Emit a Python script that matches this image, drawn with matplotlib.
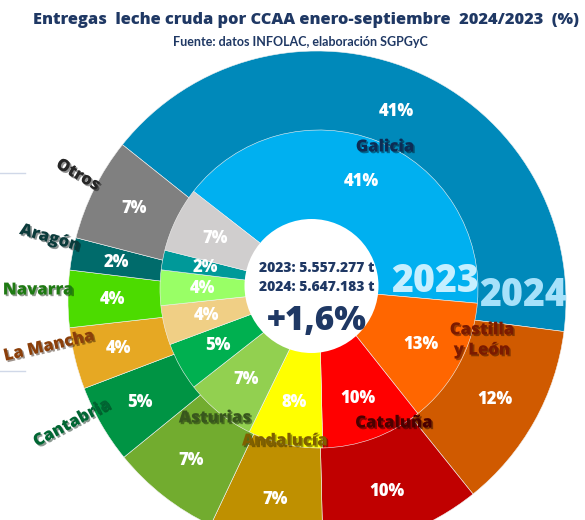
import matplotlib.pyplot as plt
import matplotlib.patheffects as pe
from matplotlib.patches import Circle
from matplotlib.lines import Line2D

# shares (%) per comunidad, same order in both rings (clockwise from Galicia)
regions = ['Galicia', 'Castilla y León', 'Cataluña', 'Andalucía', 'Asturias',
           'Cantabria', 'Castilla-La Mancha', 'Navarra', 'Aragón', 'Otros']
share_2024 = [41.3, 12.2, 10.4, 7.4, 7.1, 5.1, 4.0, 3.7, 2.1, 6.7]
share_2023 = [40.9, 12.9, 10.3, 7.6, 7.2, 4.9, 4.0, 3.6, 2.0, 6.6]
total_2023 = '5.557.277 t'
total_2024 = '5.647.183 t'
variation = '+1,6%'

colors_2024 = ['#0089BA', '#D05A00', '#C00000', '#BF9000', '#72AC2F',
               '#009444', '#E6A823', '#4CDB00', '#006B6B', '#808080']
colors_2023 = ['#00B0F0', '#FF6600', '#FF0000', '#FFFF00', '#92D050',
               '#00B050', '#F0CF85', '#99FF66', '#009999', '#D0CECE']

NAVY = '#1F3864'
FONT = 'Open Sans'
WT = 800
W, H = 585, 520
CX, CY, R = 317, 300, 249


def P(x, y):
    # pixel position -> data coords
    return (x - CX) / R, (CY - y) / R


fig = plt.figure(figsize=(5.85, 5.2), dpi=100)
ax = fig.add_axes([(CX - R) / W, (H - CY - R) / H, 2 * R / W, 2 * R / H])

pct_props = dict(color='white', fontsize=12, fontweight=WT, family=FONT)

ax.pie(share_2024, colors=colors_2024, radius=1, startangle=141.4, counterclock=False,
       wedgeprops=dict(width=0.5, edgecolor='#f2f2f2', linewidth=0.4),
       autopct='%.0f%%', pctdistance=0.82, textprops=pct_props)

ax.pie(share_2023, colors=colors_2023, radius=159 / R, center=(2 / R, 11 / R),
       startangle=142.1, counterclock=False,
       wedgeprops=dict(edgecolor='#f2f2f2', linewidth=0.4),
       autopct='%.0f%%', pctdistance=0.73, textprops=pct_props)

ax.add_patch(Circle(P(311.5, 286), 67 / R, facecolor='white', edgecolor='none', zorder=5))
ax.set_xlim(-1, 1)
ax.set_ylim(-1, 1)
ax.axis('off')

# centre
ax.text(*P(317, 268), '2023: ' + total_2023, ha='center', va='center', fontsize=10,
        fontweight=WT, color=NAVY, family=FONT, zorder=6)
ax.text(*P(317, 287), '2024: ' + total_2024, ha='center', va='center', fontsize=10,
        fontweight=WT, color=NAVY, family=FONT, zorder=6)
ax.text(*P(317, 321), variation, ha='center', va='center', fontsize=24,
        fontweight=WT, color=NAVY, family=FONT, zorder=6)

# ring years
ax.text(*P(435, 281), '2023', ha='center', va='center', fontsize=27, fontweight=WT,
        color='#C6EFFF', family=FONT, zorder=6)
ax.text(*P(523, 295), '2024', ha='center', va='center', fontsize=27, fontweight=WT,
        color='#A6E1FA', family=FONT, zorder=6)

# region names
name_labels = [
    ('Galicia', 385, 147, 0, '#0D2C54'),
    ('Castilla\ny León', 482, 340, 0, '#7B1A00'),
    ('Cataluña', 394, 423, 0, '#4A0000'),
    ('Andalucía', 285, 441, 0, '#7F6000'),
    ('Asturias', 215, 418, 0, '#38561D'),
    ('Cantabria', 72, 423, 28, '#006633'),
    ('La Mancha', 49, 346, 13, '#8B3F0A'),
    ('Navarra', 38, 290, 0, '#1E7A12'),
    ('Aragón', 50, 238, -16, '#0B3B3B'),
    ('Otros', 78, 175, -30, '#262626'),
]
for txt, x, y, rot, c in name_labels:
    ax.text(*P(x, y), txt, ha='center', va='center', rotation=rot, fontsize=12,
            fontweight=WT, color=c, family=FONT, linespacing=1.25, zorder=6,
            path_effects=[pe.SimplePatchShadow(offset=(1.2, -1.2), alpha=0.45), pe.Normal()])

fig.text(306 / W, 1 - 20 / H, 'Entregas  leche cruda por CCAA enero-septiembre  2024/2023  (%)',
         ha='center', va='center', fontsize=11.8, fontweight=WT, color=NAVY, family=FONT)
fig.text(300 / W, 1 - 42 / H, 'Fuente: datos INFOLAC, elaboración SGPGyC',
         ha='center', va='center', fontsize=9, fontweight='bold', color=NAVY, family='Lato')

# faint slide rules on the left
for yy in (173, 371):
    fig.add_artist(Line2D([0, 25 / W], [1 - yy / H, 1 - yy / H], color='#D0D8E8', lw=1))

fig.savefig('out.png', dpi=100)
